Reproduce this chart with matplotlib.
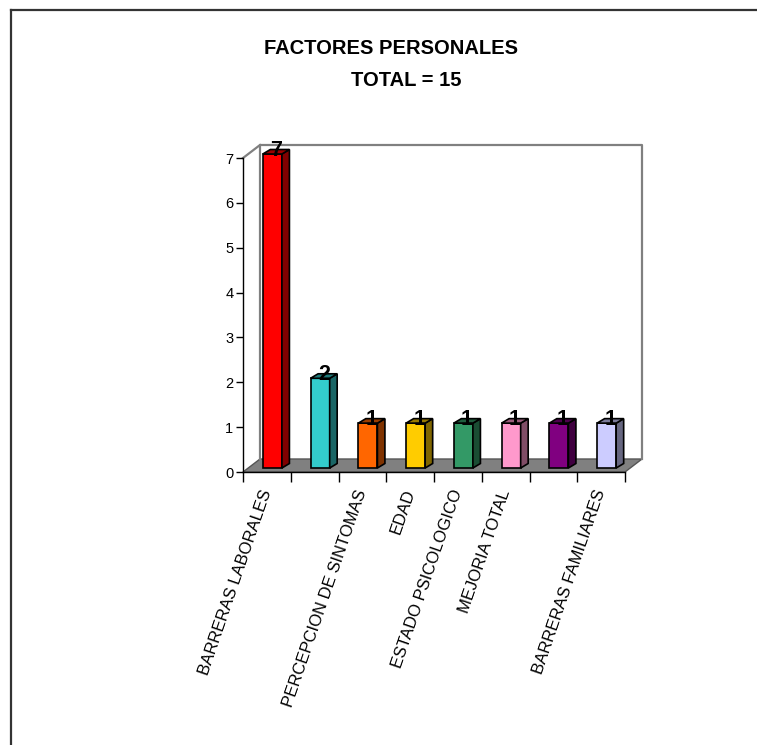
import matplotlib.pyplot as plt
from matplotlib.patches import Polygon
import matplotlib.colors as mcolors

plt.rcParams['font.family'] = ['Liberation Sans', 'DejaVu Sans']

# data
categorias = ["BARRERAS LABORALES", "", "PERCEPCION DE SINTOMAS", "EDAD",
              "ESTADO PSICOLOGICO", "MEJORIA TOTAL", "", "BARRERAS FAMILIARES"]
valores = [7, 2, 1, 1, 1, 1, 1, 1]
colores = ["#FF0000", "#33CCCC", "#FF6600", "#FFCC00",
           "#339966", "#FF99CC", "#800080", "#CCCCFF"]


def oscuro(c, f):
    r, g, b = mcolors.to_rgb(c)
    return (r * f, g * f, b * f)


fig = plt.figure(figsize=(7.57, 7.45), dpi=100)

# outer frame (top and left only visible)
fig.add_artist(plt.Line2D([10.5 / 757, 1], [1 - 9.5 / 745, 1 - 9.5 / 745], color="#333333", lw=1.6))
fig.add_artist(plt.Line2D([10.5 / 757, 10.5 / 757], [0, 1 - 9.5 / 745], color="#333333", lw=1.6))

fig.text(391 / 757, 1 - 49 / 745, "FACTORES PERSONALES", ha="center", va="center",
         fontsize=14.5, fontweight="bold")
fig.text(406 / 757, 1 - 81 / 745, "TOTAL = 15", ha="center", va="center",
         fontsize=14.5, fontweight="bold")

ax = fig.add_axes([243 / 757, 273 / 745, 382 / 757, 314 / 745])
n = len(valores)
ax.set_xlim(-0.5, n - 0.5)
ax.set_ylim(0, 7)

# depth of floor / wall, in data units
DX = 17 / 47.75
DY = 13 / 44.86
# bar offset and bar depth
SX = 5.5 / 47.75
SY = 4 / 44.86
BX = 7.5 / 47.75
BY = 4.5 / 44.86
W = 0.4

# floor
floor = Polygon([(-0.5, 0), (n - 0.5, 0), (n - 0.5 + DX, DY), (-0.5 + DX, DY)],
                closed=True, facecolor="#808080", edgecolor="#555555", lw=1, clip_on=False, zorder=1)
ax.add_patch(floor)
# back wall outline
ax.plot([-0.5 + DX, -0.5 + DX, n - 0.5 + DX, n - 0.5 + DX], [DY, 7 + DY, 7 + DY, DY],
        color="#808080", lw=1.6, clip_on=False, zorder=1)
ax.plot([-0.5, -0.5 + DX], [7, 7 + DY], color="#808080", lw=1.6, clip_on=False, zorder=1)

x = list(range(n))
xs = [i + SX for i in x]
ax.bar(xs, valores, width=W, bottom=SY, color=colores, edgecolor="black",
       linewidth=1.2, zorder=3, clip_on=False)
for xi, v, c in zip(xs, valores, colores):
    r = xi + W / 2
    l = xi - W / 2
    top = v + SY
    side = Polygon([(r, SY), (r + BX, SY + BY), (r + BX, top + BY), (r, top)],
                   closed=True, facecolor=oscuro(c, 0.5), edgecolor="black", lw=1.2,
                   zorder=3, clip_on=False)
    cap = Polygon([(l, top), (r, top), (r + BX, top + BY), (l + BX, top + BY)],
                  closed=True, facecolor=oscuro(c, 0.6), edgecolor="black", lw=1.2,
                  zorder=3, clip_on=False)
    ax.add_patch(side)
    ax.add_patch(cap)
    ax.text(xi + BX / 2, top + BY / 2 + 0.03, str(v), ha="center", va="center",
            fontsize=15.5, fontweight="bold", zorder=4, clip_on=False)

for s in ["top", "right"]:
    ax.spines[s].set_visible(False)
ax.spines["left"].set_linewidth(1)
ax.spines["bottom"].set_linewidth(1)
ax.spines["bottom"].set_zorder(2)

ax.set_yticks(range(0, 8))
ax.tick_params(axis="y", length=5, width=1, labelsize=10.5, pad=2)

ax.set_xticks([i - 0.5 for i in range(n + 1)], minor=False)
ax.set_xticklabels([])
ax.tick_params(axis="x", which="major", length=7, width=1, direction="out")
ax.set_xticks(x, minor=True)
ax.set_xticklabels(categorias, minor=True, rotation=71, ha="right", va="center",
                   rotation_mode="anchor", fontsize=12)
ax.tick_params(axis="x", which="minor", length=0, pad=13)

fig.savefig("out.png", dpi=100)
